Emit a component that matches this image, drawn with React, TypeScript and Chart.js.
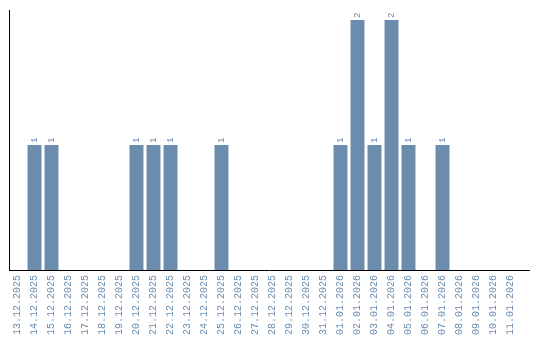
import React, { useEffect, useRef } from "react";
import { Chart, registerables } from "chart.js";

Chart.register(...registerables);

const dates = [
  "13.12.2025", "14.12.2025", "15.12.2025", "16.12.2025", "17.12.2025", "18.12.2025",
  "19.12.2025", "20.12.2025", "21.12.2025", "22.12.2025", "23.12.2025", "24.12.2025",
  "25.12.2025", "26.12.2025", "27.12.2025", "28.12.2025", "29.12.2025", "30.12.2025",
  "31.12.2025", "01.01.2026", "02.01.2026", "03.01.2026", "04.01.2026", "05.01.2026",
  "06.01.2026", "07.01.2026", "08.01.2026", "09.01.2026", "10.01.2026", "11.01.2026",
];
const counts = [
  0, 1, 1, 0, 0, 0,
  0, 1, 1, 1, 0, 0,
  1, 0, 0, 0, 0, 0,
  0, 1, 2, 1, 2, 1,
  0, 1, 0, 0, 0, 0,
];

const BAR = "rgb(107,140,173)";
const TEXT = "rgb(107,140,173)";

const labelPlugin = {
  id: "barLabels",
  afterDatasetsDraw(chart: any) {
    const ctx = chart.ctx;
    const meta = chart.getDatasetMeta(0);
    ctx.save();
    ctx.font = "9px 'Liberation Mono'";
    ctx.fillStyle = TEXT;
    ctx.textAlign = "left";
    ctx.textBaseline = "middle";
    meta.data.forEach((bar: any, i: number) => {
      const v = counts[i];
      if (!v) return;
      ctx.save();
      ctx.translate(bar.x, bar.y - 2);
      ctx.rotate(-Math.PI / 2);
      ctx.fillText(String(v), 0, 0);
      ctx.restore();
    });
    ctx.restore();
  },
  afterDraw(chart: any) {
    const ctx = chart.ctx;
    const a = chart.chartArea;
    ctx.save();
    ctx.strokeStyle = "#000";
    ctx.lineWidth = 1;
    ctx.beginPath();
    ctx.moveTo(a.left, Math.round(a.bottom) + 0.5);
    ctx.lineTo(a.right + 11, Math.round(a.bottom) + 0.5);
    ctx.stroke();
    ctx.restore();
  },
};

export default function App() {
  const ref = useRef<HTMLCanvasElement>(null);
  useEffect(() => {
    const chart = new Chart(ref.current!, {
      type: "bar",
      data: {
        labels: dates,
        datasets: [
          {
            data: counts,
            backgroundColor: BAR,
            barPercentage: 0.82,
            categoryPercentage: 1,
          },
        ],
      },
      options: {
        animation: false,
        responsive: false,
        layout: { padding: { left: 9, right: 21, top: 10, bottom: 0 } },
        plugins: { legend: { display: false }, tooltip: { enabled: false } },
        scales: {
          x: {
            grid: { display: false, drawTicks: false },
            border: { display: false },
            ticks: {
              color: TEXT,
              font: { family: "'Liberation Mono'", size: 10 },
              maxRotation: 90,
              minRotation: 90,
              autoSkip: false,
              padding: 5,
            },
          },
          y: {
            min: 0,
            max: 2.08,
            grid: { display: false, drawTicks: false },
            border: { display: true, color: "#000", width: 1 },
            ticks: { display: false },
          },
        },
      },
      plugins: [labelPlugin],
    });
    return () => chart.destroy();
  }, []);
  return (
    <div style={{ position: "fixed", left: 0, top: 0, width: 540, height: 340, background: "#fff" }}>
      <canvas ref={ref} width={540} height={340} style={{ width: 540, height: 340 }} />
    </div>
  );
}
